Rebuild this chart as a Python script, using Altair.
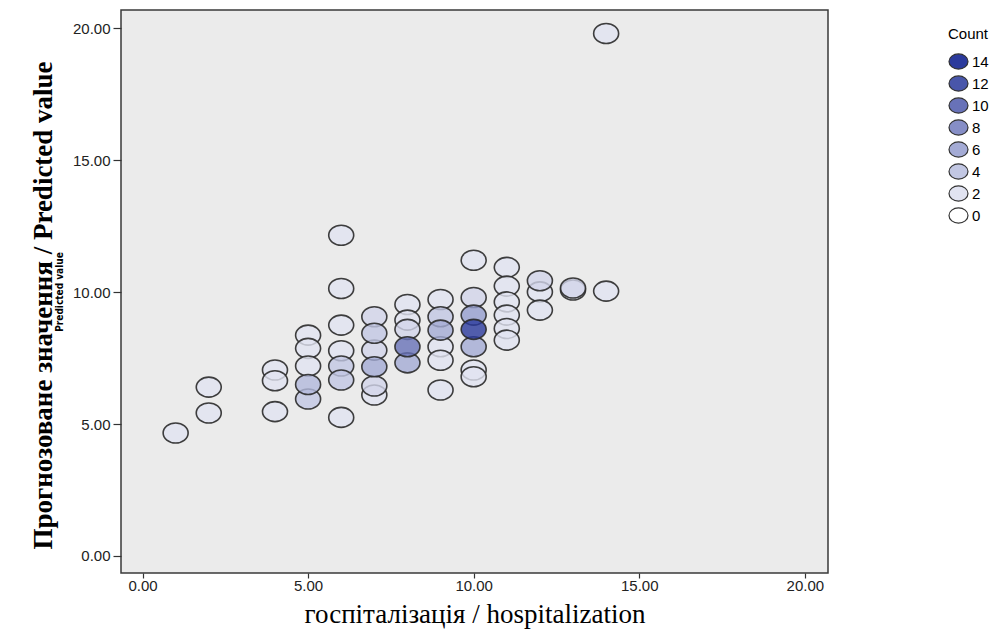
import altair as alt
import pandas as pd

# hospitalization (x), predicted value (y), count of cases at that point
hosp = [1,
        2, 2,
        4, 4, 4,
        5, 5, 5, 5, 5,
        6, 6, 6, 6, 6, 6, 6,
        7, 7, 7, 7, 7, 7,
        8, 8, 8, 8, 8,
        9, 9, 9, 9, 9, 9,
        10, 10, 10, 10, 10, 10, 10,
        11, 11, 11, 11, 11, 11,
        12, 12, 12,
        13, 13,
        14, 14]
pred = [4.66,
        6.40, 5.42,
        7.05, 6.64, 5.47,
        8.37, 7.87, 7.20, 6.50, 5.95,
        12.16, 10.14, 8.75, 7.78, 7.20, 6.67, 5.25,
        9.07, 8.44, 7.80, 7.17, 6.44, 6.10,
        9.53, 8.94, 8.59, 7.93, 7.32,
        9.72, 9.07, 8.56, 7.93, 7.42, 6.29,
        11.21, 9.80, 9.13, 8.59, 7.93, 7.05, 6.79,
        10.94, 10.23, 9.63, 9.13, 8.62, 8.18,
        10.43, 10.01, 9.32,
        10.16, 10.08,
        19.81, 10.04]
count = [2,
         2, 2,
         2, 2, 2,
         2, 2, 2, 5, 4,
         2, 2, 2, 2, 4, 4, 2,
         3, 4, 3, 6, 3, 2,
         2, 2, 3, 10, 6,
         2, 4, 6, 2, 2, 2,
         2, 3, 7, 14, 6, 2, 2,
         2, 2, 2, 2, 2, 2,
         3, 2, 2,
         3, 2,
         2, 2]

tick_vals = [0, 5, 10, 15, 20]
legend_vals = [14, 12, 10, 8, 6, 4, 2, 0]

df = pd.DataFrame({"hosp": hosp, "pred": pred, "count": count})

ELL = "M-1,0A1,0.8,0,1,1,1,0A1,0.8,0,1,1,-1,0Z"
SANS = "Liberation Sans"
SERIF = "Liberation Serif"

points = alt.Chart(df).mark_point(
    shape=ELL, filled=True, size=625, stroke="#2a2a2a", strokeWidth=1.6,
    fillOpacity=0.8, strokeOpacity=0.9, opacity=1
).encode(
    x=alt.X("hosp:Q",
            scale=alt.Scale(domain=[-0.65, 20.7], nice=False, zero=False),
            axis=alt.Axis(values=tick_vals, format=".2f",
                          title="госпіталізація / hospitalization",
                          titleFont=SERIF, titleFontSize=27, titleFontWeight="normal",
                          titleColor="#000", titlePadding=8,
                          tickSize=5, labelPadding=0)),
    y=alt.Y("pred:Q",
            scale=alt.Scale(domain=[-0.65, 20.7], nice=False, zero=False),
            axis=alt.Axis(values=tick_vals, format=".2f",
                          title="Predicted value",
                          titleFont="Liberation Sans Narrow, DejaVu Sans Condensed, Liberation Sans",
                          titleFontSize=10, titleFontWeight="bold",
                          titleColor="#000", titlePadding=8,
                          tickSize=8, labelPadding=3)),
    fill=alt.Fill("count:Q",
                  scale=alt.Scale(domain=[0, 14], range=["#ffffff", "#2b3a9c"],
                                  interpolate="rgb"),
                  legend=alt.Legend(type="symbol", values=legend_vals, title="Count",
                                    orient="none", legendX=827, legendY=17,
                                    symbolType=ELL, symbolSize=361,
                                    symbolStrokeColor="#333", symbolStrokeWidth=1.2,
                                    symbolOpacity=1,
                                    labelFont=SANS, labelFontSize=15, labelColor="#000",
                                    labelOffset=3,
                                    titleFont=SANS, titleFontSize=15,
                                    titleFontWeight="normal", titleColor="#000",
                                    titlePadding=9, rowPadding=1)),
    order=alt.Order("count:Q")
)

chart = points.properties(
    width=707, height=563,
    autosize="none",
    padding={"left": 113, "top": 2, "right": 169, "bottom": 60},
    title=alt.TitleParams("Прогнозоване значення / Predicted value", orient="left",
                          font=SERIF, fontSize=27, fontWeight="bold", color="#000",
                          anchor="middle", offset=-4, dx=-14)
).configure_view(
    fill="#ebebeb", stroke="#3a3a3a", strokeWidth=1.5
).configure_axis(
    grid=False, domain=False, tickColor="#333", tickWidth=1.2,
    labelFont=SANS, labelFontSize=15, labelColor="#222"
)

chart.save("out.html", embed_options={"renderer": "svg", "actions": False})
